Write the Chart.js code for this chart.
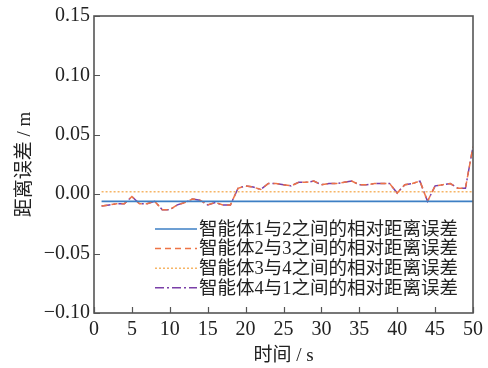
<!DOCTYPE html>
<html>
<head>
<meta charset="utf-8">
<script src="https://cdn.jsdelivr.net/npm/chart.js@4.4.1/dist/chart.umd.min.js"></script>
<style>
  html,body{margin:0;padding:0;background:#fff;}
  canvas{display:block;}
</style>
</head>
<body>
<canvas id="c" width="488" height="368"></canvas>
<script>
// data
const times = Array.from({length:50},(_,i)=>i+1);
const err12 = times.map(()=>-0.006);
const err34 = times.map(()=>0.002);
const err41 = [
  -0.010,-0.009,-0.008,-0.008,-0.002,-0.008,-0.008,-0.006,-0.013,-0.013,
  -0.009,-0.007,-0.004,-0.005,-0.009,-0.007,-0.009,-0.009, 0.005, 0.007,
   0.006, 0.004, 0.009, 0.009, 0.008, 0.007, 0.010, 0.010, 0.011, 0.008,
   0.009, 0.009, 0.010, 0.011, 0.008, 0.008, 0.009, 0.009, 0.009, 0.001,
   0.008, 0.009, 0.011,-0.006, 0.007, 0.008, 0.009, 0.005, 0.005, 0.040
];
const err23 = err41.slice();
const labels = ['智能体1与2之间的相对距离误差','智能体2与3之间的相对距离误差','智能体3与4之间的相对距离误差','智能体4与1之间的相对距离误差'];
const xTicks = [0,5,10,15,20,25,30,35,40,45,50];
const yTicks = [-0.10,-0.05,0.00,0.05,0.10,0.15];

const FONT = "'Liberation Serif','Noto Sans CJK SC',serif";
const AXC = '#555';

// frame, inward ticks, legend
const decor = {
  id:'decor',
  afterDraw(chart){
    const ctx = chart.ctx, a = chart.chartArea;
    const xs = chart.scales.x, ys = chart.scales.y;
    ctx.save();
    ctx.strokeStyle = AXC; ctx.lineWidth = 1.6; ctx.setLineDash([]);
    ctx.strokeRect(a.left, a.top, a.right-a.left, a.bottom-a.top);
    ctx.lineWidth = 1.2;
    ctx.beginPath();
    xTicks.forEach(v=>{ const px = Math.round(xs.getPixelForValue(v))+0.5; ctx.moveTo(px,a.bottom); ctx.lineTo(px,a.bottom-6); });
    yTicks.forEach(v=>{ const py = Math.round(ys.getPixelForValue(v))+0.5; ctx.moveTo(a.left,py); ctx.lineTo(a.left+6,py); });
    ctx.stroke();
    // legend
    const ds = chart.data.datasets;
    ctx.font = '18.5px '+FONT; ctx.textBaseline='middle'; ctx.fillStyle='#222';
    ds.forEach((d,i)=>{
      const y = 229 + i*19.6;
      ctx.strokeStyle = d.borderColor; ctx.lineWidth = d.borderWidth;
      ctx.setLineDash(d.borderDash||[]);
      ctx.beginPath(); ctx.moveTo(155,y); ctx.lineTo(197,y); ctx.stroke();
      ctx.fillText(d.label, 199, y+1);
    });
    ctx.restore();
  }
};

const mk = (label, data, color, dash, w)=>({label, data, borderColor:color, borderDash:dash, borderWidth:w, pointRadius:0, fill:false, tension:0});

new Chart(document.getElementById('c'),{
  type:'line',
  data:{
    labels: times,
    datasets:[
      mk(labels[0], err12, '#3d7fc4', [], 1.6),
      mk(labels[1], err23, '#ee7446', [6,4], 1.5),
      mk(labels[2], err34, '#f6b567', [2,2], 1.5),
      mk(labels[3], err41, '#7a3fa8', [9,3,2,3], 1.5)
    ]
  },
  options:{
    responsive:false, animation:false,
    layout:{padding:{left:0,right:13,top:16,bottom:0}},
    plugins:{legend:{display:false}, tooltip:{enabled:false}},
    scales:{
      x:{
        type:'linear', min:0, max:50,
        afterBuildTicks(s){ s.ticks = xTicks.map(v=>({value:v})); },
        afterFit(s){ s.height = 55; },
        grid:{display:false, drawTicks:false}, border:{display:false},
        ticks:{color:'#222', padding:5, font:{family:FONT, size:20}, maxRotation:0, callback:v=>String(v)},
        title:{display:true, text:'时间 / s', color:'#222', padding:{top:0,bottom:1}, font:{family:FONT, size:19}}
      },
      y:{
        min:-0.10, max:0.15,
        afterBuildTicks(s){ s.ticks = yTicks.map(v=>({value:v})); },
        afterFit(s){ s.width = 94; },
        grid:{display:false, drawTicks:false}, border:{display:false},
        ticks:{color:'#222', padding:4, font:{family:FONT, size:20}, callback:v=>(v<0?'\u2212':'')+Math.abs(v).toFixed(2)},
        title:{display:true, text:'距离误差 / m', color:'#222', padding:{top:14,bottom:0}, font:{family:FONT, size:19}}
      }
    }
  },
  plugins:[decor]
});
</script>
</body>
</html>
